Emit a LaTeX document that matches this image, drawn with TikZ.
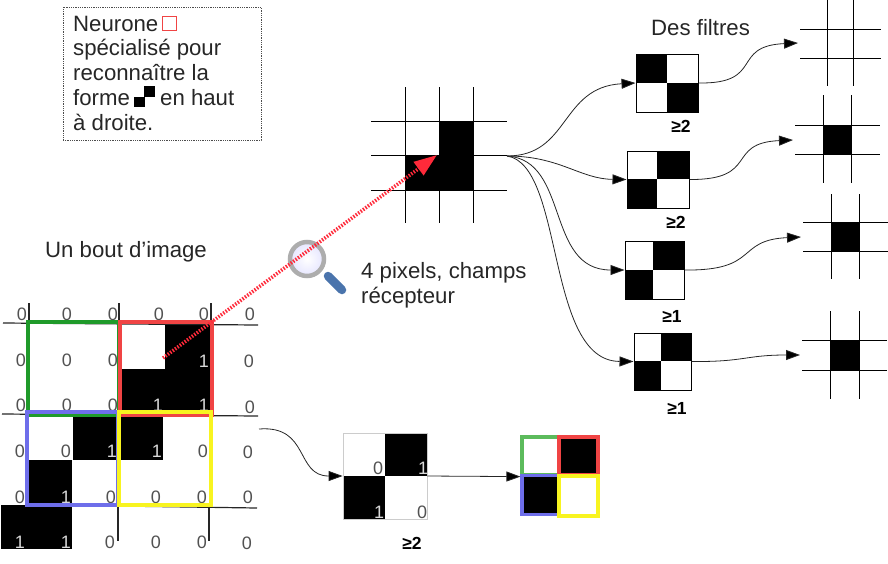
\documentclass[tikz,border=0pt]{standalone}
\usepackage{fontspec}
\setmainfont{Liberation Sans}
\usetikzlibrary{arrows.meta}
\definecolor{vertfen}{HTML}{1F9A2A}
\definecolor{vertres}{HTML}{5CBB5C}
\definecolor{rougefen}{HTML}{F04444}
\definecolor{bleufen}{HTML}{6E6EEA}
\definecolor{jaunefen}{HTML}{F8F420}
\definecolor{rougepts}{HTML}{FF2A3A}
\definecolor{manche}{HTML}{4A74AC}
\tikzset{
  texte/.style={anchor=base west, inner sep=0pt, text=black!85, font=\fontsize{22.2}{25}\selectfont},
  chiffre/.style={inner sep=0pt, text=black!68, font=\fontsize{18}{18}\selectfont},
  chiffreun/.style={inner sep=0pt, text=black!15, font=\fontsize{18}{18}\selectfont},
  seuil/.style={inner sep=0pt, font=\bfseries\fontsize{17.5}{17.5}\selectfont},
  filtre/.style={draw=black, line width=1pt, inner sep=0pt},
  fenetre/.style={draw, line width=3.2pt, inner sep=0pt, minimum width=#1},
  lien/.style={draw=black!85, line width=0.8pt, -{Triangle[length=14pt,width=10pt,fill=black]}},
  trait/.style={draw=black, line width=1pt},
  traitg/.style={draw=black!85, line width=1.2pt}
}
\begin{document}
\begin{tikzpicture}[x=1pt,y=-1pt]
  \useasboundingbox (0,0) rectangle (888,563);
  % note du haut
  \node[draw=black!70, densely dotted, line width=0.8pt, minimum width=198pt, minimum height=133pt, inner sep=0pt] (note) at (162,73.5) {};
  \node[texte] (na) at (73,31) {Neurone};
  \node[texte] (nb) at (73,55) {spécialisé pour};
  \node[texte] (nc) at (73,80) {reconnaître la};
  \node[texte] (nd) at (73,105) {forme};
  \node[texte] (ne) at (160,105) {en haut};
  \node[texte] (nf) at (73,130) {à droite.};
  \node[draw=rougefen, line width=1pt, minimum size=14pt, inner sep=0pt] (carre) at (169.5,23) {};
  \fill[black] (134,97) rectangle (145,107);
  \fill[black] (144,86) rectangle (155,97);

  \node[texte] (bout) at (45,257) {Un bout d'image};
  \node[texte] (filtres) at (651,35) {Des filtres};
  \node[texte] (pixa) at (361,278) {4 pixels, champs};
  \node[texte] (pixb) at (361,303) {récepteur};

  % image de gauche
  \fill[black] (165,325) rectangle (212,369);
  \fill[black] (122,369) rectangle (212,415);
  \fill[black] (73,417) rectangle (163,460);
  \fill[black] (29,460) rectangle (72,503);
  \fill[black] (1,505) rectangle (72,549);
  \foreach \xv in {29,119,211} \draw[traitg] (\xv,303) -- (\xv,323);
  \foreach \xv in {118,209} \draw[traitg] (\xv,507) -- (\xv,541);
  \draw[traitg] (3,323) -- (258,325);
  \draw[traitg] (2,414) -- (258,416);
  \draw[traitg] (118,506) -- (257,508);
  \foreach \xv/\yv in {22/314,67/314,113/314,159/314,204/314,250/314,
    21/360,67/360,113/360,249/361,21/405,67/405,113/405,250/407,
    20/451,66/451,203/451,248/452,20/497,111/497,156/497,202/497,248/497,
    110/542,156/542,202/542,247/543}
    \node[chiffre] (z\xv-\yv) at (\xv,\yv) {0};
  \foreach \xv/\yv in {204/361,158/405,204/405,112/451,157/451,66/497,20/542,66/542}
    \node[chiffreun] (u\xv-\yv) at (\xv,\yv) {1};
  \node[fenetre=91pt, minimum height=93pt, draw=vertfen] (vert) at (73.5,368.5) {};
  \node[fenetre=92pt, minimum height=93pt, draw=rougefen] (rouge) at (166,368.5) {};
  \node[fenetre=91pt, minimum height=93pt, draw=bleufen] (bleu) at (72.5,458.5) {};
  \node[fenetre=92pt, minimum height=93pt, draw=jaunefen] (jaune) at (165,458.5) {};

  % loupe
  \draw[line width=8.5pt, line cap=round, draw=manche] (328,276) -- (342,290);
  \shade[inner color=white, outer color=blue!10, draw=black!32, line width=4.5pt] (307,259) circle (17pt);

  % les 4 pixels
  \fill[black] (439,121) rectangle (473,190);
  \fill[black] (405,155) rectangle (439,190);
  \foreach \xv in {405,439,473} \draw[trait] (\xv,87) -- (\xv,223);
  \foreach \yv in {121,155,190} \draw[trait] (371,\yv) -- (507,\yv);
  \coordinate (champ) at (163,358);
  \coordinate (centre) at (437,155);
  \coordinate (sortie) at (507,156);
  \draw[rougepts, line width=3.6pt, dash pattern=on 1.5pt off 1.5pt, -{Triangle[length=23pt,width=16pt]}] (champ) -- (centre);

  % les filtres
  \fill[black] (636,54) rectangle (667,83);
  \fill[black] (667,83) rectangle (698,112);
  \fill[black] (657,151) rectangle (689,179);
  \fill[black] (627,179) rectangle (657,208);
  \fill[black] (653,241) rectangle (684,270);
  \fill[black] (625,270) rectangle (653,299);
  \fill[black] (661,333) rectangle (691,361);
  \fill[black] (634,361) rectangle (661,390);
  \node[filtre, minimum width=62pt, minimum height=58pt] (fa) at (667,83) {};
  \node[filtre, minimum width=62pt, minimum height=57pt] (fb) at (658,179.5) {};
  \node[filtre, minimum width=59pt, minimum height=58pt] (fc) at (654.5,270) {};
  \node[filtre, minimum width=57pt, minimum height=57pt] (fd) at (662.5,361.5) {};
  \draw[white, line width=0.8pt] (661,361) -- (661,390);
  \node[seuil] (sa) at (681,126) {≥2};
  \node[seuil] (sb) at (676,222) {≥2};
  \node[seuil] (sc) at (672,316) {≥1};
  \node[seuil] (sd) at (677,408) {≥1};
  \draw[lien] (sortie) .. controls (570,156) and (560,87) .. (fa.west);
  \draw[lien] (sortie) .. controls (560,156) and (580,179) .. (fb.west);
  \draw[lien] (sortie) .. controls (570,160) and (545,270) .. (fc.west);
  \draw[lien] (sortie) .. controls (565,165) and (545,361) .. (fd.west);

  % les sorties
  \fill[black] (823,125) rectangle (851,154);
  \fill[black] (831,222) rectangle (859,251);
  \fill[black] (830,340) rectangle (859,370);
  \foreach \xa/\xb/\ya/\yb/\yh/\yl/\xg/\xd in {
    827/853/29/58/0/86/800/881,
    823/851/125/154/95/183/795/880,
    831/859/222/251/194/279/803/888,
    830/859/340/370/311/399/802/887}{
    \draw[trait] (\xa,\yh) -- (\xa,\yl);
    \draw[trait] (\xb,\yh) -- (\xb,\yl);
    \draw[trait] (\xg,\ya) -- (\xd,\ya);
    \draw[trait] (\xg,\yb) -- (\xd,\yb);
  }
  \coordinate (ga) at (798,43);
  \coordinate (gb) at (793,140);
  \coordinate (gc) at (801,237);
  \coordinate (gd) at (800,355);
  \draw[lien] (fa.east) .. controls (765,84) and (730,46) .. (ga);
  \draw[lien] (fb.east) .. controls (760,180) and (725,143) .. (gb);
  \draw[lien] (fc.east) .. controls (760,271) and (735,240) .. (gc);
  \draw[lien] (fd.east) .. controls (745,362) and (745,355) .. (gd);

  % le bas
  \fill[black] (385,433) rectangle (427,476);
  \fill[black] (343,476) rectangle (385,519);
  \node[draw=black!20, line width=0.8pt, minimum width=84pt, minimum height=86pt, inner sep=0pt] (fe) at (385,476) {};
  \node[chiffre] (za) at (378,468) {0};
  \node[chiffreun] (ua) at (423,468) {1};
  \node[chiffreun] (ub) at (379,512) {1};
  \node[chiffre] (zb) at (422,512) {0};
  \node[seuil] (se) at (412,543) {≥2};
  \coordinate (dep) at (259,429);
  \draw[lien] (dep) .. controls (310,425) and (295,476) .. (fe.west);
  \fill[black] (559,437) rectangle (598,475);
  \fill[black] (522,475) rectangle (559,515);
  \node[fenetre=37pt, minimum height=38pt, draw=vertres] (rv) at (540.5,456) {};
  \node[fenetre=39pt, minimum height=38pt, draw=rougefen] (rr) at (578.5,456) {};
  \node[fenetre=37pt, minimum height=39pt, draw=bleufen] (rb) at (540.5,495) {};
  \node[fenetre=39pt, minimum height=40pt, draw=jaunefen] (rj) at (578.5,496) {};
  \draw[lien] (fe.east) -- (rv.south west);
\end{tikzpicture}
\end{document}
